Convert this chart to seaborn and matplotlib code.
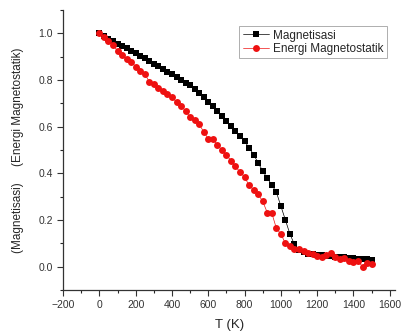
import numpy as np
import pandas as pd
import matplotlib
matplotlib.use("Agg")
import matplotlib.pyplot as plt
from matplotlib.ticker import MultipleLocator
import seaborn as sns

# data (T step 25 K)
temperature = list(range(0, 1525, 25))

magnetisasi = [
    1.000, 0.990, 0.978, 0.967, 0.956, 0.946, 0.936, 0.925, 0.915, 0.904,
    0.893, 0.882, 0.870, 0.859, 0.848, 0.836, 0.825, 0.813, 0.801, 0.789,
    0.778, 0.762, 0.745, 0.727, 0.706, 0.687, 0.668, 0.647, 0.625, 0.603,
    0.582, 0.560, 0.537, 0.510, 0.480, 0.445, 0.410, 0.380, 0.350, 0.320,
    0.260, 0.200, 0.140, 0.095, 0.072, 0.062, 0.056, 0.053, 0.050, 0.048,
    0.046, 0.044, 0.042, 0.041, 0.040, 0.038, 0.036, 0.034, 0.033, 0.031,
    0.030,
]

energi = [
    1.000, 0.985, 0.968, 0.950, 0.925, 0.906, 0.892, 0.878, 0.858, 0.840,
    0.826, 0.793, 0.783, 0.765, 0.752, 0.740, 0.727, 0.705, 0.690, 0.667,
    0.641, 0.628, 0.610, 0.578, 0.548, 0.548, 0.522, 0.500, 0.478, 0.455,
    0.430, 0.405, 0.385, 0.348, 0.330, 0.310, 0.280, 0.232, 0.230, 0.165,
    0.140, 0.100, 0.090, 0.077, 0.075, 0.068, 0.060, 0.055, 0.045, 0.040,
    0.050, 0.060, 0.040, 0.034, 0.036, 0.025, 0.018, 0.025, 0.000, 0.015,
    0.012,
]

df_m = pd.DataFrame({"T": temperature, "val": magnetisasi})
df_e = pd.DataFrame({"T": temperature, "val": energi})

sns.set_style("ticks")
plt.rcParams['font.family'] = ['Liberation Sans', 'DejaVu Sans']

fig = plt.figure(figsize=(4.02, 3.36), dpi=100)
ax = fig.add_axes([0.157, 0.137, 0.826, 0.833])

sns.lineplot(data=df_m, x="T", y="val", ax=ax, color="black", marker="s",
             markersize=3.8, markeredgewidth=0, linewidth=0.5,
             label="Magnetisasi")
sns.lineplot(data=df_e, x="T", y="val", ax=ax, color="#ee1111", marker="o",
             markersize=5, markeredgewidth=0, linewidth=0.5,
             label="Energi Magnetostatik")

ax.set_xlim(-200, 1630)
ax.set_ylim(-0.1, 1.1)
ax.xaxis.set_major_locator(MultipleLocator(200))
ax.xaxis.set_minor_locator(MultipleLocator(100))
ax.yaxis.set_major_locator(MultipleLocator(0.2))
ax.yaxis.set_minor_locator(MultipleLocator(0.1))
ax.yaxis.set_major_formatter(matplotlib.ticker.FormatStrFormatter('%.1f'))
ax.tick_params(which="major", length=4, width=0.8, labelsize=7.5, colors="#333333")
ax.tick_params(which="minor", length=2, width=0.8)
sns.despine(ax=ax)
for s in ["left", "bottom"]:
    ax.spines[s].set_linewidth(0.9)
    ax.spines[s].set_color("#333333")

ax.set_xlabel("T (K)", fontsize=9.5, labelpad=6)
ax.set_ylabel("(Magnetisasi)     (Energi Magnetostatik)", fontsize=8.5, labelpad=10)

leg = ax.legend(loc="upper right", bbox_to_anchor=(0.994, 0.964), fontsize=8.5,
                frameon=True, fancybox=False, handlelength=2.2,
                borderpad=0.3, labelspacing=0.1, handletextpad=0.4)
leg.get_frame().set_edgecolor("#999999")
leg.get_frame().set_linewidth(0.7)

fig.savefig("out.png", dpi=100)
